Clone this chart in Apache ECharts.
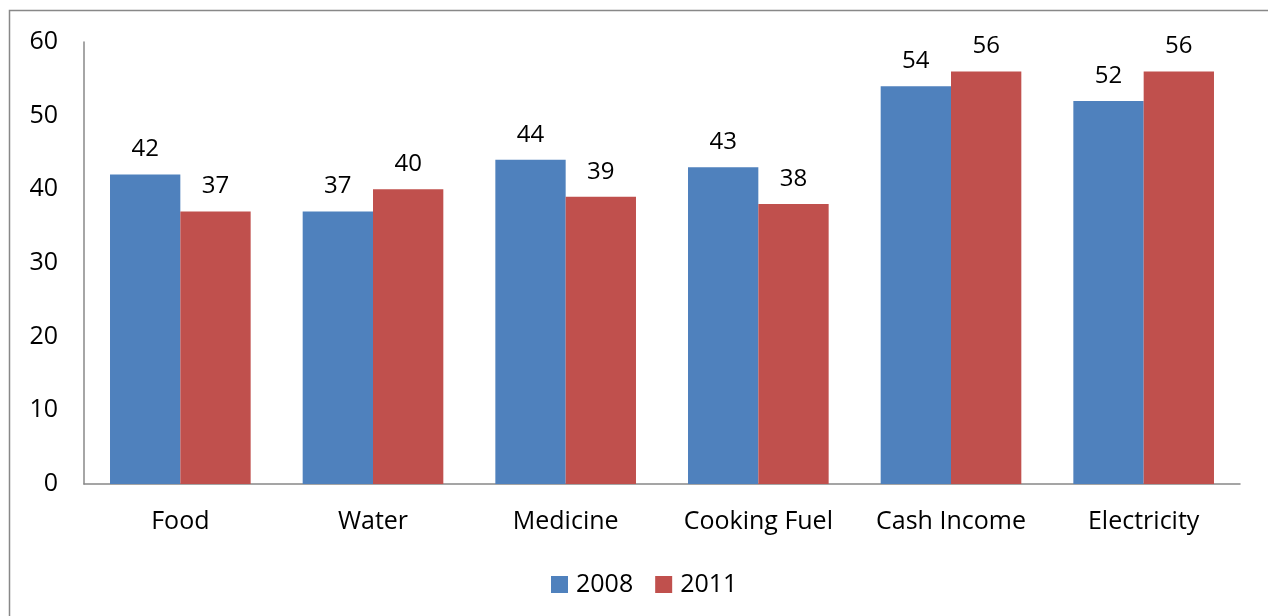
<!DOCTYPE html>
<html><head><meta charset="utf-8">
<script src="https://cdn.jsdelivr.net/npm/echarts@6/dist/echarts.min.js"></script>
<style>html,body{margin:0;padding:0;background:#fff}#c{width:1268px;height:616px}</style>
</head><body><div id="c"></div>
<script>
const categories = ['Food', 'Water', 'Medicine', 'Cooking Fuel', 'Cash Income', 'Electricity'];
const values2008 = [42, 37, 44, 43, 54, 52];
const values2011 = [37, 40, 39, 38, 56, 56];
const yTicks = [0, 10, 20, 30, 40, 50, 60];
const FONT = '"Open Sans", "Noto Sans", sans-serif';
const chart = echarts.init(document.getElementById('c'), null, {renderer: 'canvas'});
const lbl = {show: true, position: 'top', distance: 13, color: '#000', fontSize: 24, fontFamily: FONT};
chart.setOption({
  animation: false,
  graphic: [{type: 'rect', shape: {x: 9.5, y: 10.5, width: 1400, height: 800}, style: {fill: 'none', stroke: '#888', lineWidth: 1.5}, silent: true}],
  grid: {left: 84, right: 28, top: 42, bottom: 132},
  legend: {top: 567, left: 546, itemWidth: 17, itemHeight: 17, itemGap: 22, icon: 'rect',
    textStyle: {fontSize: 25, fontFamily: FONT, color: '#000', padding: [0, 0, 0, 3]}, data: ['2008', '2011']},
  xAxis: {type: 'category', data: categories,
    axisLine: {lineStyle: {color: '#888', width: 1.5}}, axisTick: {show: false},
    axisLabel: {interval: 0, fontSize: 25, fontFamily: FONT, color: '#000', margin: 25}},
  yAxis: {type: 'value', min: yTicks[0], max: yTicks[yTicks.length - 1], interval: 10,
    axisLine: {show: true, lineStyle: {color: '#888', width: 1.5}}, axisTick: {show: false},
    splitLine: {show: false},
    axisLabel: {fontSize: 25, fontFamily: FONT, color: '#000', margin: 26}},
  series: [
    {name: '2008', type: 'bar', data: values2008, barGap: '0%', barCategoryGap: '27%', itemStyle: {color: '#4F81BD'}, label: lbl},
    {name: '2011', type: 'bar', data: values2011, barGap: '0%', barCategoryGap: '27%', itemStyle: {color: '#C0504D'}, label: lbl}
  ]
});
</script></body></html>
